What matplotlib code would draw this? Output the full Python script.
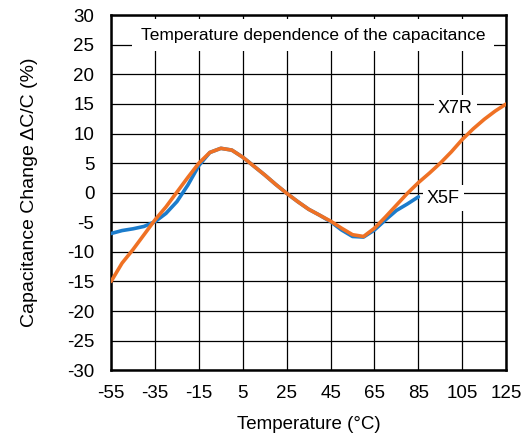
import matplotlib
matplotlib.use("Agg")
import matplotlib.pyplot as plt

plt.rcParams['font.family'] = ['Liberation Sans', 'DejaVu Sans']
plt.rcParams['axes.unicode_minus'] = False

# X7R curve (temperature in degC, capacitance change in %)
x7r_temp = [-55, -50, -45, -40, -35, -30, -25, -20, -15, -10, -5, 0, 5, 10, 15, 20,
            25, 30, 35, 40, 45, 50, 55, 60, 65, 70, 75, 80, 85, 90, 95, 100, 105,
            110, 115, 120, 125]
x7r_change = [-15.0, -11.9, -9.6, -7.1, -4.6, -2.4, 0.1, 2.6, 5.0, 6.8, 7.5, 7.2, 6.0,
              4.5, 3.0, 1.4, -0.1, -1.5, -2.8, -3.8, -4.8, -6.0, -7.1, -7.4, -6.0,
              -4.1, -2.1, -0.1, 1.7, 3.3, 5.0, 6.9, 9.0, 10.8, 12.4, 13.8, 15.0]

# X5F curve
x5f_temp = [-55, -50, -45, -40, -35, -30, -25, -20, -15, -10, -5, 0, 5, 10, 15, 20,
            25, 30, 35, 40, 45, 50, 55, 60, 65, 70, 75, 80, 85]
x5f_change = [-6.9, -6.4, -6.1, -5.7, -4.9, -3.5, -1.5, 1.3, 4.6, 6.8, 7.5, 7.2, 6.0,
              4.5, 3.0, 1.4, -0.1, -1.5, -2.8, -3.8, -4.9, -6.3, -7.4, -7.5, -6.3,
              -4.6, -3.0, -1.9, -0.7]

x_ticks = [-55, -35, -15, 5, 25, 45, 65, 85, 105, 125]
y_ticks = list(range(-30, 31, 5))

fig = plt.figure(figsize=(5.24, 4.34), dpi=100)
ax = fig.add_axes([0.212, 0.147, 0.754, 0.818])

ax.plot(x5f_temp, x5f_change, color="#1b7ccc", linewidth=2.6, zorder=3,
        solid_capstyle="round", solid_joinstyle="round")
ax.plot(x7r_temp, x7r_change, color="#ef7124", linewidth=2.6, zorder=4,
        solid_capstyle="round", solid_joinstyle="round")

ax.set_xlim(-55, 125)
ax.set_ylim(-30, 30)
ax.set_xticks(x_ticks)
ax.set_yticks(y_ticks)
ax.grid(True, color="black", linewidth=0.9)
ax.set_axisbelow(True)
ax.tick_params(length=0, labelsize=13.5)
ax.tick_params(axis="y", pad=12)
ax.tick_params(axis="x", pad=11)
for s in ax.spines.values():
    s.set_linewidth(1.8)

ax.set_xlabel("Temperature (°C)", fontsize=13.5, labelpad=10)
ax.set_ylabel("Capacitance Change ΔC/C (%)", fontsize=14, labelpad=21)

box = dict(facecolor="white", edgecolor="none", pad=3)
ax.text(37, 26.6, "Temperature dependence of the capacitance", fontsize=12.5,
        ha="center", va="center", bbox=dict(facecolor="white", edgecolor="none", pad=6), zorder=5)
ax.text(101.8, 14.3, "X7R", fontsize=13, ha="center", va="center", bbox=box, zorder=5)
ax.text(96.3, -0.9, "X5F", fontsize=13, ha="center", va="center", bbox=box, zorder=5)

fig.savefig("out.png", dpi=100)
